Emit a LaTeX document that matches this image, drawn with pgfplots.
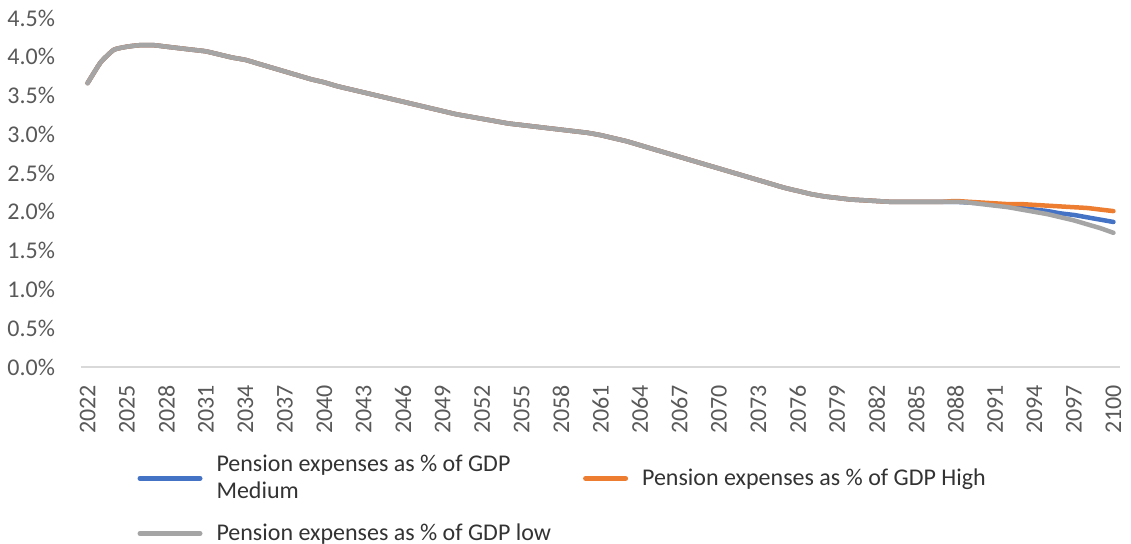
\documentclass[border=0pt]{standalone}
\usepackage{pgfplots}
\pgfplotsset{compat=1.18}
\usepackage{pgfplotstable}
\usepackage{fontspec}
\setmainfont{Carlito}
\definecolor{cblue}{HTML}{4472C4}
\definecolor{corange}{HTML}{ED7D31}
\definecolor{cgray}{HTML}{A5A5A5}
\definecolor{ctext}{HTML}{595959}
\definecolor{caxis}{HTML}{D9D9D9}
\pgfplotsset{
  longleg/.style={legend image code/.code={\draw[##1, line width=2.5pt] (0pt,0pt) -- (30pt,0pt);}},
  shortleg/.style={legend image code/.code={\draw[##1, line width=2.5pt] (0pt,0pt) -- (20pt,0pt);}},
}
\pgfplotstableread{
year med high low
2022 3.66 3.66 3.66
2023 3.93 3.93 3.93
2024 4.09 4.09 4.09
2025 4.13 4.13 4.13
2026 4.15 4.15 4.15
2027 4.15 4.15 4.15
2028 4.13 4.13 4.13
2029 4.11 4.11 4.11
2030 4.09 4.09 4.09
2031 4.07 4.07 4.07
2032 4.03 4.03 4.03
2033 3.99 3.99 3.99
2034 3.96 3.96 3.96
2035 3.91 3.91 3.91
2036 3.86 3.86 3.86
2037 3.81 3.81 3.81
2038 3.76 3.76 3.76
2039 3.71 3.71 3.71
2040 3.67 3.67 3.67
2041 3.62 3.62 3.62
2042 3.58 3.58 3.58
2043 3.54 3.54 3.54
2044 3.50 3.50 3.50
2045 3.46 3.46 3.46
2046 3.42 3.42 3.42
2047 3.38 3.38 3.38
2048 3.34 3.34 3.34
2049 3.30 3.30 3.30
2050 3.26 3.26 3.26
2051 3.23 3.23 3.23
2052 3.20 3.20 3.20
2053 3.17 3.17 3.17
2054 3.14 3.14 3.14
2055 3.12 3.12 3.12
2056 3.10 3.10 3.10
2057 3.08 3.08 3.08
2058 3.06 3.06 3.06
2059 3.04 3.04 3.04
2060 3.02 3.02 3.02
2061 2.99 2.99 2.99
2062 2.95 2.95 2.95
2063 2.91 2.91 2.91
2064 2.86 2.86 2.86
2065 2.81 2.81 2.81
2066 2.76 2.76 2.76
2067 2.71 2.71 2.71
2068 2.66 2.66 2.66
2069 2.61 2.61 2.61
2070 2.56 2.56 2.56
2071 2.51 2.51 2.51
2072 2.46 2.46 2.46
2073 2.41 2.41 2.41
2074 2.36 2.36 2.36
2075 2.31 2.31 2.31
2076 2.27 2.27 2.27
2077 2.23 2.23 2.23
2078 2.20 2.20 2.20
2079 2.18 2.18 2.18
2080 2.16 2.16 2.16
2081 2.15 2.15 2.15
2082 2.14 2.14 2.14
2083 2.13 2.13 2.13
2084 2.13 2.13 2.13
2085 2.13 2.13 2.13
2086 2.13 2.13 2.13
2087 2.13 2.13 2.13
2088 2.13 2.14 2.13
2089 2.12 2.13 2.12
2090 2.11 2.12 2.10
2091 2.09 2.11 2.08
2092 2.07 2.10 2.06
2093 2.05 2.10 2.03
2094 2.03 2.09 2.00
2095 2.01 2.08 1.97
2096 1.98 2.07 1.93
2097 1.96 2.06 1.89
2098 1.93 2.05 1.84
2099 1.90 2.03 1.79
2100 1.87 2.01 1.73
}\datatable
\begin{document}
\begin{tikzpicture}
\begin{axis}[
  scale only axis,
  width=519.5pt, height=174.5pt,
  at={(0pt,0pt)}, anchor=south west,
  xmin=2021.5, xmax=2100.5,
  ymin=0, ymax=4.5,
  xtick={2022,2025,...,2100},
  ytick={0,0.5,...,4.5},
  axis lines=left,
  axis line style={-},
  y axis line style={draw=none},
  x axis line style={draw=caxis, line width=1pt},
  major tick length=0pt,
  tick label style={font=\fontsize{12}{14}\selectfont, text=ctext},
  /pgf/number format/assume math mode=true,
  xticklabel={\pgfmathprintnumber[1000 sep={},fixed]{\tick}},
  x tick label style={rotate=90, anchor=east, xshift=0pt},
  xticklabel shift=5.5pt,
  yticklabel={\pgfmathprintnumber[fixed,fixed zerofill,precision=1]{\tick}\%},
  yticklabel shift=9.5pt,
  clip=false,
  legend columns=2,
  legend cell align=left,
  longleg,
  legend style={
    at={(0.054,-0.24)}, anchor=north west,
    draw=none, fill=none, inner sep=0pt,
    font=\fontsize{12}{13.5}\selectfont,
    text=black!80,
    cells={align=left},
    /tikz/every odd column/.append style={column sep=5pt},
    /tikz/every even column/.append style={column sep=14pt},
    row sep=7pt,
  },
]
\addplot[cblue, line width=2.25pt, line cap=round, smooth, tension=0.3] table[x=year, y=med] {\datatable};
\addlegendentry{Pension expenses as \% of GDP\\Medium}
\addplot[corange, line width=2.25pt, line cap=round, smooth, tension=0.3, shortleg] table[x=year, y=high] {\datatable};
\addlegendentry{Pension expenses as \% of GDP High}
\addplot[cgray, line width=2.25pt, line cap=round, smooth, tension=0.3] table[x=year, y=low] {\datatable};
\addlegendentry{Pension expenses as \% of GDP low}
\end{axis}
\pgfresetboundingbox
\path[use as bounding box] (-40.5pt,-88.5pt) rectangle (525pt,183.5pt);
\end{tikzpicture}
\end{document}
